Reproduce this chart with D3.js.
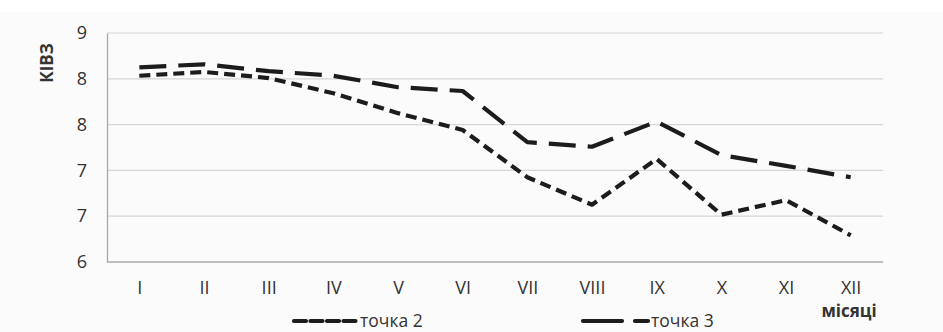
<!DOCTYPE html>
<html>
<head>
<meta charset="utf-8">
<script src="https://cdn.jsdelivr.net/npm/d3@7"></script>
<style>
  html, body { margin: 0; padding: 0; background: #ffffff; }
  svg { display: block; font-family: "Open Sans", "Noto Sans", sans-serif; }
</style>
</head>
<body>
<svg id="chart" width="943" height="332"></svg>
<script>
const months = ["I","II","III","IV","V","VI","VII","VIII","IX","X","XI","XII"];
const point2 = [8.44, 8.49, 8.41, 8.21, 7.95, 7.73, 7.11, 6.75, 7.35, 6.62, 6.81, 6.35];
const point3 = [8.55, 8.59, 8.50, 8.44, 8.29, 8.24, 7.57, 7.51, 7.84, 7.40, 7.26, 7.11];
const yTicks = [6, 6.6, 7.2, 7.8, 8.4, 9];
const seriesNames = ["точка 2", "точка 3"];

const svg = d3.select("#chart");
const W = 943, H = 332;
const m = { left: 107, right: 60, top: 33, bottom: 70 };

svg.append("rect").attr("x", 0).attr("y", 12).attr("width", W).attr("height", H - 12)
  .attr("fill", "#fbfbfb");

const x = d3.scalePoint().domain(months).range([m.left, W - m.right]).padding(0.5);
const y = d3.scaleLinear().domain([6, 9]).range([H - m.bottom, m.top]);

// gridlines
svg.append("g").selectAll("line").data(yTicks.slice(1)).join("line")
  .attr("x1", m.left).attr("x2", W - m.right)
  .attr("y1", d => y(d)).attr("y2", d => y(d))
  .attr("stroke", "#d6d6d6").attr("stroke-width", 1.2);

// y axis
const yAxis = svg.append("g").attr("transform", `translate(${m.left},0)`)
  .call(d3.axisLeft(y).tickValues(yTicks).tickFormat(d3.format(".0f")).tickSize(0).tickPadding(20));
yAxis.select(".domain").attr("stroke", "#a8a8a8").attr("stroke-width", 1.3);
yAxis.selectAll("text").attr("font-size", 18).attr("fill", "#333").attr("font-family", "Open Sans");

// x axis
const xAxis = svg.append("g").attr("transform", `translate(0,${y(6)})`)
  .call(d3.axisBottom(x).tickSize(0).tickPadding(19));
xAxis.select(".domain").attr("d", `M${m.left},0H${W - m.right}`).attr("stroke", "#a8a8a8").attr("stroke-width", 1.5);
xAxis.selectAll("text").attr("font-size", 18).attr("fill", "#333").attr("font-family", "Open Sans");

// axis titles
svg.append("text").attr("transform", "translate(53,63) rotate(-90)")
  .attr("text-anchor", "middle").attr("font-size", 17).attr("font-weight", "bold")
  .attr("fill", "#333").text("КІВЗ");
svg.append("text").attr("x", 849).attr("y", 317).attr("text-anchor", "middle")
  .attr("font-size", 17).attr("font-weight", "bold").attr("fill", "#333").text("місяці");

// lines
const line = d3.line().x((d, i) => x(months[i])).y(d => y(d));
const styles = [
  { data: point2, dash: "11,6" },
  { data: point3, dash: "27,12" }
];
styles.forEach(s => {
  svg.append("path").datum(s.data).attr("d", line)
    .attr("fill", "none").attr("stroke", "#1c1c1c").attr("stroke-width", 4.2)
    .attr("stroke-dasharray", s.dash).attr("stroke-linejoin", "round");
});

// legend
const legend = [
  { name: seriesNames[0], x1: 294, x2: 357, dash: "12,4.5" },
  { name: seriesNames[1], x1: 583, x2: 648, dash: "39,13" }
];
legend.forEach(l => {
  svg.append("line").attr("x1", l.x1).attr("x2", l.x2).attr("y1", 321).attr("y2", 321)
    .attr("stroke", "#1c1c1c").attr("stroke-width", 4.2).attr("stroke-dasharray", l.dash)
    .attr("stroke-linecap", "round");
  svg.append("text").attr("x", l.x2 + 3).attr("y", 327).attr("font-size", 17.5)
    .attr("fill", "#333").text(l.name);
});
</script>
</body>
</html>
